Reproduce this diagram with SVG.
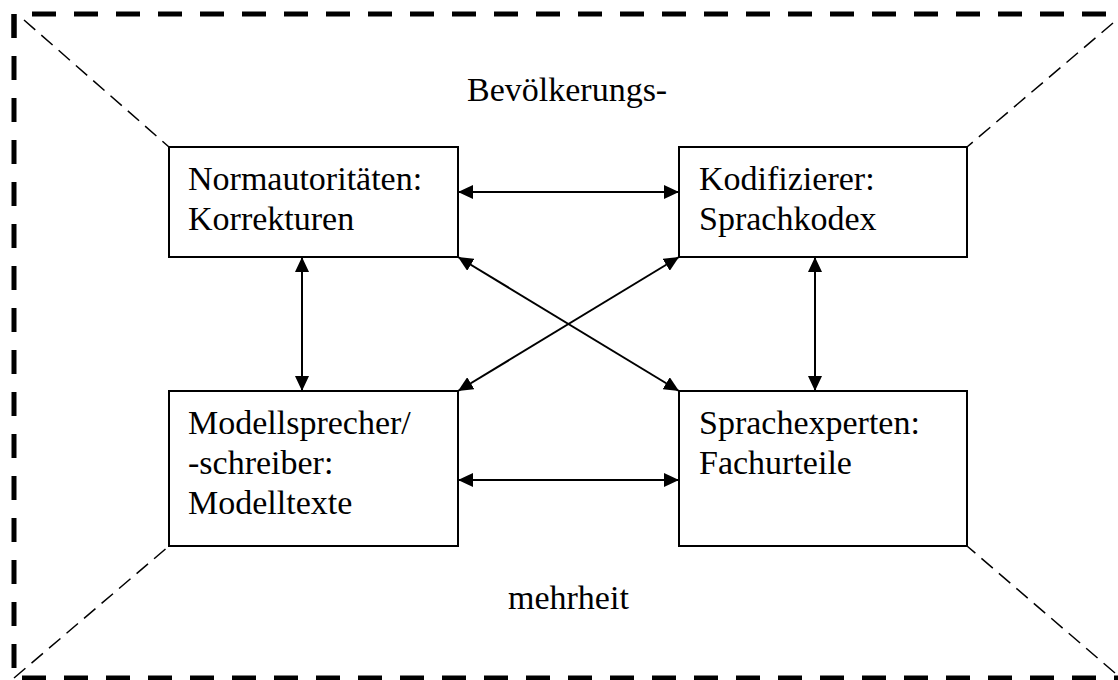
<svg xmlns="http://www.w3.org/2000/svg" width="1118" height="680" viewBox="0 0 1118 680">
<defs>
<style>
.frame{fill:none;stroke:#000;stroke-width:5;stroke-dasharray:24 18}
.diag{fill:none;stroke:#000;stroke-width:1.5;stroke-dasharray:15 8}
.box{fill:#fff;stroke:#000;stroke-width:2}
.arr{fill:none;stroke:#000;stroke-width:2;marker-start:url(#ah);marker-end:url(#ah)}
text{font-family:"Liberation Serif","Times New Roman",serif;font-size:34px;fill:#000}
</style>
<marker id="ah" viewBox="0 0 15 14" refX="15" refY="7" markerWidth="15" markerHeight="14" markerUnits="userSpaceOnUse" orient="auto-start-reverse">
<path d="M0,0 L15,7 L0,14 Z" fill="#000"/>
</marker>
</defs>
<rect width="1118" height="680" fill="#fff"/>
<path class="frame" d="M14,38 L14,14 L1122,14"/>
<path class="frame" d="M14,14 L14,678 L1122,678"/>
<g id="diagonals">
<line class="diag" x1="24" y1="20" x2="169" y2="147"/>
<line class="diag" x1="1113" y1="23" x2="967" y2="147"/>
<line class="diag" x1="14" y1="678" x2="169" y2="546"/>
<line class="diag" x1="1115" y1="673" x2="967" y2="546"/>
</g>
<text x="467" y="101">Bevölkerungs-</text>
<text x="508" y="609">mehrheit</text>
<g id="node-normautoritaeten">
<rect class="box" x="169" y="147" width="289" height="110"/>
<text x="188" y="190">Normautoritäten:</text>
<text x="188" y="230">Korrekturen</text>
</g>
<g id="node-kodifizierer">
<rect class="box" x="679" y="147" width="288" height="110"/>
<text x="699" y="190">Kodifizierer:</text>
<text x="699" y="230">Sprachkodex</text>
</g>
<g id="node-modellsprecher">
<rect class="box" x="169" y="391" width="289" height="155"/>
<text x="188" y="434">Modellsprecher/</text>
<text x="188" y="474">-schreiber:</text>
<text x="188" y="514">Modelltexte</text>
</g>
<g id="node-sprachexperten">
<rect class="box" x="679" y="391" width="288" height="155"/>
<text x="699" y="434">Sprachexperten:</text>
<text x="699" y="474">Fachurteile</text>
</g>
<g id="connectors">
<line class="arr" x1="458" y1="192" x2="679" y2="192"/>
<line class="arr" x1="458" y1="480" x2="679" y2="480"/>
<line class="arr" x1="302" y1="257" x2="302" y2="391"/>
<line class="arr" x1="815" y1="257" x2="815" y2="391"/>
<line class="arr" x1="458" y1="257" x2="679" y2="391"/>
<line class="arr" x1="679" y1="257" x2="458" y2="391"/>
</g>
</svg>
